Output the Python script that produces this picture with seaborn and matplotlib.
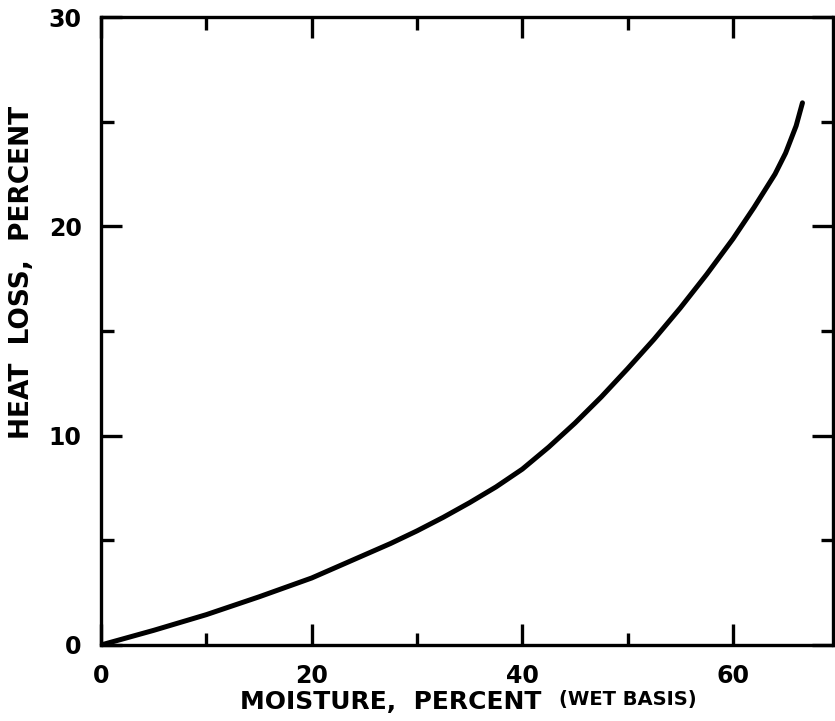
import numpy as np
import pandas as pd
import matplotlib
matplotlib.use("Agg")
import matplotlib.pyplot as plt
import seaborn as sns

# ============================
#  DATA
# ============================
moisture = [0, 5, 10, 15, 20, 25, 27.5, 30, 32.5, 35, 37.5, 40, 42.5, 45, 47.5,
            50, 52.5, 55, 57.5, 60, 62, 64, 65, 66, 66.6]
heat_loss = [0, 0.7, 1.45, 2.3, 3.2, 4.3, 4.85, 5.45, 6.1, 6.8, 7.55, 8.4, 9.45, 10.6, 11.85,
             13.2, 14.6, 16.1, 17.7, 19.4, 20.9, 22.5, 23.5, 24.8, 25.9]

x_major = [0, 20, 40, 60]
x_minor = [10, 30, 50]
y_major = [0, 10, 20, 30]
y_minor = [5, 15, 25]

df = pd.DataFrame({"moisture": moisture, "heat_loss": heat_loss})

# ============================
#  STYLE
# ============================
sns.set_style("ticks")
plt.rcParams["font.family"] = ["DejaVu Sans"]
plt.rcParams["font.weight"] = "bold"
plt.rcParams["text.color"] = "black"
plt.rcParams["xtick.color"] = "black"
plt.rcParams["ytick.color"] = "black"
plt.rcParams["axes.labelcolor"] = "black"

fig = plt.figure(figsize=(8.35, 7.21), dpi=100)
ax = fig.add_axes([101 / 835, 1 - 645 / 721, 732 / 835, 628 / 721])

sns.lineplot(data=df, x="moisture", y="heat_loss", color="black",
             linewidth=3.6, ax=ax, solid_capstyle="round", solid_joinstyle="round")

ax.set_xlim(0, 69.5)
ax.set_ylim(0, 30)

ax.set_xticks(x_major)
ax.set_xticks(x_minor, minor=True)
ax.set_yticks(y_major)
ax.set_yticks(y_minor, minor=True)
ax.set_xticklabels([str(v) for v in x_major], fontsize=17, fontweight="bold")
ax.set_yticklabels([str(v) for v in y_major], fontsize=17, fontweight="bold")

ax.tick_params(which="both", direction="in", top=True, right=True,
               width=2.4, color="black", labelcolor="black")
ax.tick_params(which="major", length=15, pad=14)
ax.tick_params(which="minor", length=9)

for side in ["left", "right", "top", "bottom"]:
    ax.spines[side].set_visible(True)
    ax.spines[side].set_linewidth(2.4)
    ax.spines[side].set_color("black")

ax.set_xlabel("")
ax.set_ylabel("HEAT  LOSS,  PERCENT", fontsize=19, fontweight="bold")
ax.yaxis.set_label_coords(-0.09, 0.594)

ax.text(0.396, -0.09, "MOISTURE,  PERCENT", transform=ax.transAxes,
        fontsize=18, fontweight="bold", ha="center", va="center")
ax.text(0.72, -0.087, "(WET BASIS)", transform=ax.transAxes,
        fontsize=14, fontweight="bold", ha="center", va="center")

fig.savefig("out.png", dpi=100, facecolor="white")
plt.close(fig)
